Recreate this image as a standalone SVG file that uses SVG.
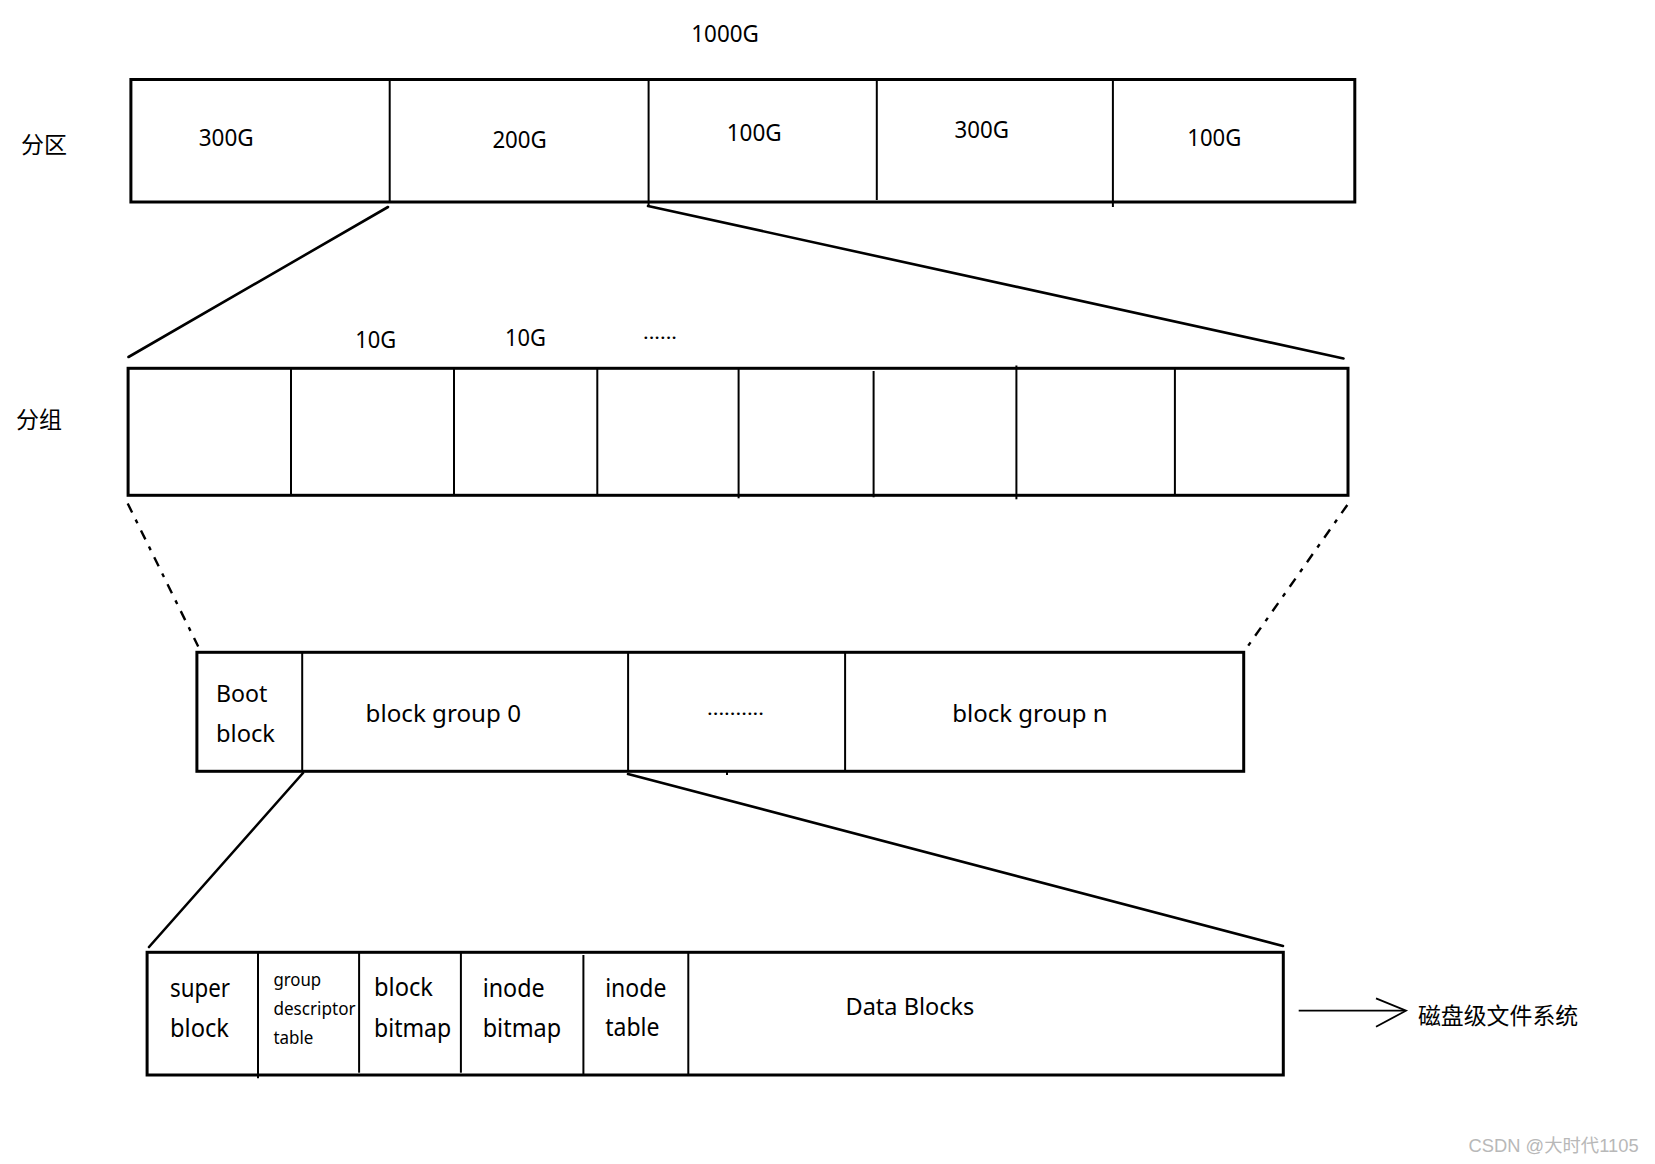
<svg xmlns="http://www.w3.org/2000/svg" width="1655" height="1164" viewBox="0 0 1655 1164">
<style>
.box{fill:#fff;stroke:#000;stroke-width:3}
.div{stroke:#000;stroke-width:2;fill:none}
.con{stroke:#000;stroke-width:2.6;fill:none;stroke-linecap:round}
.dash{stroke:#000;stroke-width:2.4;fill:none;stroke-dasharray:10 8 4 8}
.arr{stroke:#000;stroke-width:1.8;fill:none}
text{font-family:"Noto Sans","Noto Sans CJK SC",sans-serif;fill:#000}
.l24{font-size:24px}
.l25{font-size:25px}
.l18{font-size:18px}
.cjk{font-family:"Noto Sans CJK SC","Noto Sans",sans-serif;font-size:23px}
.wm{font-family:"Liberation Sans","Noto Sans CJK SC",sans-serif;font-size:18px;fill:#b8b8b8}
</style>
<rect width="1655" height="1164" fill="#fff"/>

<g id="connectors">
<line class="con" x1="388" y1="207" x2="128.5" y2="357"/>
<line class="con" x1="648" y1="206" x2="1343.5" y2="358.5"/>
<line class="dash" x1="127.7" y1="503.5" x2="198.2" y2="646.5"/>
<line class="dash" x1="1347.3" y1="505" x2="1248" y2="646"/>
<line class="con" x1="303" y1="773" x2="149" y2="947"/>
<line class="con" x1="628" y1="774" x2="1283" y2="946"/>
<line class="arr" x1="1298.7" y1="1010.7" x2="1404" y2="1010.7"/>
<polyline class="arr" points="1376,998.3 1406,1010.7 1376,1026.7"/>
</g>

<g id="title">
<text class="l24" x="691.3" y="42.3" textLength="67.5" lengthAdjust="spacingAndGlyphs">1000G</text>
</g>

<g id="label-fenqu">
<text class="cjk" x="21" y="153">分区</text>
</g>

<g id="partitions">
<rect class="box" x="130.9" y="79.5" width="1223.9" height="122.5"/>
<line class="div" x1="389.7" y1="79" x2="389.7" y2="202"/>
<line class="div" x1="648.6" y1="79" x2="648.6" y2="206"/>
<line class="div" x1="876.8" y1="80" x2="876.8" y2="200"/>
<line class="div" x1="1112.9" y1="80" x2="1112.9" y2="207"/>
<text class="l24" x="198.7" y="145.7" textLength="55" lengthAdjust="spacingAndGlyphs">300G</text>
<text class="l24" x="492.4" y="147.7" textLength="54.4" lengthAdjust="spacingAndGlyphs">200G</text>
<text class="l24" x="726.7" y="141.3" textLength="55" lengthAdjust="spacingAndGlyphs">100G</text>
<text class="l24" x="954.5" y="138" textLength="54.5" lengthAdjust="spacingAndGlyphs">300G</text>
<text class="l24" x="1187.3" y="145.7" textLength="54" lengthAdjust="spacingAndGlyphs">100G</text>
</g>

<g id="label-fenzu">
<text class="cjk" x="16" y="428">分组</text>
</g>

<g id="group-labels">
<text class="l24" x="355.3" y="348.3" textLength="41" lengthAdjust="spacingAndGlyphs">10G</text>
<text class="l24" x="504.9" y="346" textLength="41" lengthAdjust="spacingAndGlyphs">10G</text>
<text class="l18" x="643" y="338.5" textLength="34" lengthAdjust="spacingAndGlyphs">......</text>
</g>

<g id="groups">
<rect class="box" x="128.1" y="368.3" width="1219.9" height="127"/>
<line class="div" x1="291" y1="368" x2="291" y2="495"/>
<line class="div" x1="454" y1="368" x2="454" y2="495"/>
<line class="div" x1="597.3" y1="368" x2="597.3" y2="495"/>
<line class="div" x1="738.6" y1="368" x2="738.6" y2="498.3"/>
<line class="div" x1="873.6" y1="371" x2="873.6" y2="497.3"/>
<line class="div" x1="1016.4" y1="365.5" x2="1016.4" y2="499.3"/>
<line class="div" x1="1174.9" y1="368" x2="1174.9" y2="495"/>
</g>

<g id="block-groups">
<rect class="box" x="196.9" y="652.3" width="1046.8" height="119"/>
<line class="div" x1="302.2" y1="652" x2="302.2" y2="771"/>
<line class="div" x1="628.1" y1="652" x2="628.1" y2="771"/>
<line class="div" x1="845.1" y1="652" x2="845.1" y2="771"/>
<line class="div" x1="727" y1="771" x2="727" y2="775"/>
<text class="l24" x="216" y="701.7" textLength="51.4" lengthAdjust="spacingAndGlyphs">Boot</text>
<text class="l24" x="216" y="741.7" textLength="59" lengthAdjust="spacingAndGlyphs">block</text>
<text class="l24" x="365.6" y="721.7" textLength="155.4" lengthAdjust="spacingAndGlyphs">block group 0</text>
<text class="l18" x="707" y="714.5" textLength="57" lengthAdjust="spacingAndGlyphs">..........</text>
<text class="l24" x="952.2" y="721.7" textLength="155.4" lengthAdjust="spacingAndGlyphs">block group n</text>
</g>

<g id="block-group-detail">
<rect class="box" x="147.1" y="952.3" width="1136.2" height="122.7"/>
<line class="div" x1="258" y1="952" x2="258" y2="1078.3"/>
<line class="div" x1="359.1" y1="953" x2="359.1" y2="1072.7"/>
<line class="div" x1="460.9" y1="953" x2="460.9" y2="1072.7"/>
<line class="div" x1="583.4" y1="955" x2="583.4" y2="1074"/>
<line class="div" x1="688.3" y1="952" x2="688.3" y2="1075"/>
<text class="l25" x="170" y="997.3" textLength="60" lengthAdjust="spacingAndGlyphs">super</text>
<text class="l25" x="170" y="1036.7" textLength="59" lengthAdjust="spacingAndGlyphs">block</text>
<text class="l18" x="273.4" y="985.7" textLength="47.8" lengthAdjust="spacingAndGlyphs">group</text>
<text class="l18" x="273.4" y="1015" textLength="82.2" lengthAdjust="spacingAndGlyphs">descriptor</text>
<text class="l18" x="273.4" y="1044" textLength="40" lengthAdjust="spacingAndGlyphs">table</text>
<text class="l25" x="374" y="996" textLength="59" lengthAdjust="spacingAndGlyphs">block</text>
<text class="l25" x="374" y="1036.7" textLength="77.3" lengthAdjust="spacingAndGlyphs">bitmap</text>
<text class="l25" x="482.7" y="997.3" textLength="62" lengthAdjust="spacingAndGlyphs">inode</text>
<text class="l25" x="482.7" y="1036.7" textLength="78.5" lengthAdjust="spacingAndGlyphs">bitmap</text>
<text class="l25" x="605.2" y="996.7" textLength="61.2" lengthAdjust="spacingAndGlyphs">inode</text>
<text class="l25" x="605.2" y="1036" textLength="54.3" lengthAdjust="spacingAndGlyphs">table</text>
<text class="l24" x="845.5" y="1015" textLength="128.8" lengthAdjust="spacingAndGlyphs">Data Blocks</text>
</g>

<g id="fs-label">
<text class="cjk" x="1417.9" y="1024" textLength="160.3" lengthAdjust="spacingAndGlyphs">磁盘级文件系统</text>
</g>

<g id="watermark">
<text class="wm" x="1468.6" y="1152" textLength="170" lengthAdjust="spacingAndGlyphs">CSDN @大时代1105</text>
</g>
</svg>
